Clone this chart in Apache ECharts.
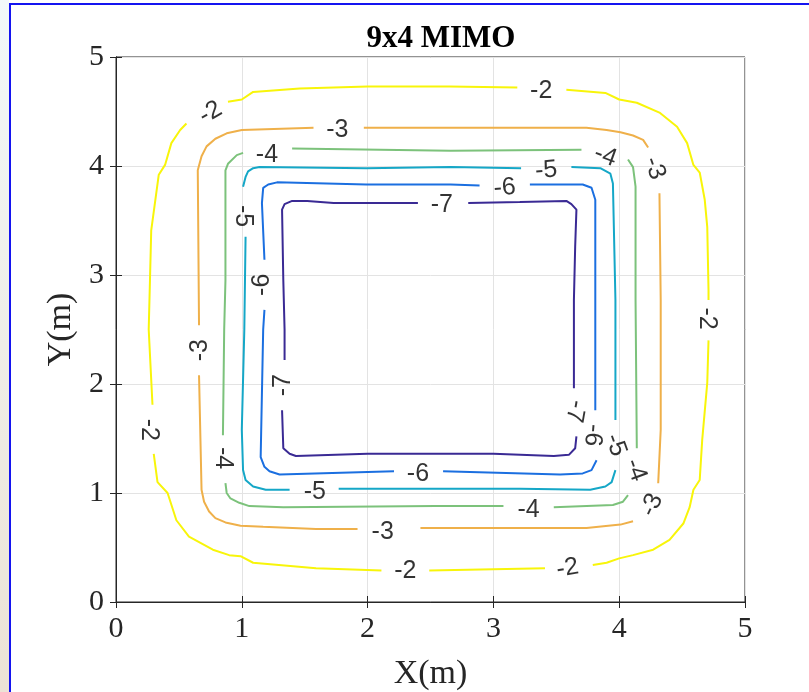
<!DOCTYPE html>
<html>
<head>
<meta charset="utf-8">
<script src="https://cdn.jsdelivr.net/npm/echarts@6/dist/echarts.min.js"></script>
<style>
  html, body { margin:0; padding:0; background:#fff; }
  #chart { position:absolute; left:0; top:0; width:809px; height:692px; }
  #strip { position:absolute; left:0; top:0; width:9px; height:692px;
           background:linear-gradient(#f2f9fa, #ece3d6); }
  #bt { position:absolute; left:9px; top:3px; width:800px; height:2px; background:#1414f0; }
  #bl { position:absolute; left:9px; top:3px; width:2px; height:689px; background:#1414f0; }
</style>
</head>
<body>
<div id="chart"></div>
<div id="strip"></div><div id="bt"></div><div id="bl"></div>
<script>
// Contour levels and their colours (parula-like)
const levels = [-2, -3, -4, -5, -6, -7];
const levelColors = ['#f8f50a', '#efb04a', '#7cc27b', '#15a7c7', '#1b6fe0', '#3a2a94'];
const xTicks = [0, 1, 2, 3, 4, 5];
const yTicks = [0, 1, 2, 3, 4, 5];

// Contour line segments (gaps are where the labels sit), [x, y] in metres
const contourM2 = [
  [[0.89,4.59],[1.00,4.61],[1.09,4.68],[1.46,4.71],[2.00,4.73],[2.42,4.73],[2.65,4.73],[3.19,4.72]],
  [[3.58,4.70],[3.89,4.67],[4.00,4.61],[4.14,4.58],[4.32,4.49],[4.46,4.36],[4.54,4.21],[4.59,4.01],[4.64,3.94],[4.68,3.69],[4.70,3.44],[4.71,2.86],[4.71,2.77]],
  [[4.71,2.40],[4.70,2.01],[4.66,1.49],[4.64,1.12],[4.59,1.03],[4.56,0.87],[4.51,0.72],[4.40,0.57],[4.27,0.48],[4.11,0.43],[4.00,0.40],[3.90,0.36],[3.79,0.34]],
  [[3.41,0.31],[2.49,0.29]],
  [[2.11,0.29],[1.59,0.31],[1.09,0.36],[0.99,0.42],[0.90,0.43],[0.77,0.48],[0.58,0.60],[0.48,0.75],[0.41,1.00],[0.33,1.10],[0.30,1.36]],
  [[0.29,1.81],[0.26,2.50],[0.27,2.95],[0.28,3.41],[0.34,3.92],[0.39,4.01],[0.44,4.21],[0.51,4.33],[0.56,4.39]]
];
const contourM3 = [
  [[0.66,2.54],[0.65,3.96],[0.68,4.09],[0.72,4.18],[0.79,4.25],[0.88,4.30],[1.00,4.33],[1.57,4.35]],
  [[1.97,4.35],[2.66,4.35],[3.74,4.35],[3.90,4.33],[4.01,4.31],[4.11,4.28],[4.19,4.24],[4.23,4.17]],
  [[4.32,3.75],[4.33,2.77],[4.33,1.58],[4.31,1.09]],
  [[4.11,0.74],[4.01,0.71],[3.74,0.68],[2.54,0.68],[2.42,0.68]],
  [[1.92,0.67],[1.59,0.67],[1.17,0.69],[0.99,0.70],[0.87,0.73],[0.79,0.77],[0.74,0.83],[0.70,0.92],[0.68,1.03],[0.66,2.08]]
];
const contourM4 = [
  [[0.85,1.53],[0.86,2.50],[0.87,2.95],[0.87,3.96],[0.89,4.02],[0.96,4.10],[1.01,4.12]],
  [[1.40,4.16],[2.66,4.14],[3.70,4.15]],
  [[4.07,4.06],[4.11,3.99],[4.13,3.81],[4.13,2.77],[4.14,1.41]],
  [[4.07,0.98],[4.03,0.92],[3.95,0.89],[3.48,0.87]],
  [[3.08,0.88],[2.54,0.88],[1.33,0.87],[1.06,0.88],[0.98,0.91],[0.91,0.95],[0.88,1.00],[0.87,1.09]]
];
const contourM5 = [
  [[1.01,3.81],[1.03,3.90],[1.05,3.95],[1.09,3.98],[1.14,3.99],[1.99,3.98],[2.66,3.99],[3.22,3.98]],
  [[3.62,3.99],[3.85,3.98],[3.93,3.93],[3.95,3.84],[3.97,2.77],[3.97,1.67]],
  [[3.97,1.21],[3.94,1.10],[3.89,1.06],[3.77,1.03],[3.21,1.04],[2.54,1.04],[1.77,1.04]],
  [[1.38,1.03],[1.19,1.03],[1.09,1.06],[1.03,1.12],[1.01,1.21],[1.00,1.58],[1.02,2.50],[1.03,3.35]]
];
const contourM6 = [
  [[1.18,3.14],[1.16,3.66],[1.17,3.80],[1.21,3.83],[1.28,3.85],[1.99,3.83],[2.66,3.83],[2.89,3.82]],
  [[3.29,3.83],[3.71,3.83],[3.78,3.80],[3.81,3.69],[3.81,2.77],[3.81,1.76]],
  [[3.82,1.30],[3.78,1.21],[3.71,1.18],[3.53,1.17],[2.60,1.20]],
  [[2.21,1.20],[1.30,1.17],[1.22,1.20],[1.18,1.24],[1.15,1.33],[1.17,2.50],[1.18,2.68]]
];
const contourM7 = [
  [[1.34,2.22],[1.34,2.50],[1.33,2.95],[1.32,3.60],[1.34,3.65],[1.40,3.68],[1.52,3.68],[1.73,3.66],[2.40,3.66]],
  [[2.80,3.66],[3.21,3.67],[3.58,3.68],[3.62,3.65],[3.66,3.60],[3.65,3.26],[3.64,2.77],[3.64,1.96]],
  [[3.66,1.52],[3.65,1.41],[3.60,1.35],[3.48,1.34],[3.00,1.36],[2.42,1.36],[2.00,1.36],[1.43,1.34],[1.38,1.36],[1.33,1.41],[1.32,1.76]]
];
const contours = [contourM2, contourM3, contourM4, contourM5, contourM6, contourM7];

// Contour labels: [x, y, level] and text angle (degrees)
const labelPoints = [
  [0.75,4.49,-2],[3.38,4.69,-2],[4.70,2.60,-2],[3.59,0.31,-2],[2.30,0.28,-2],[0.26,1.58,-2],
  [1.76,4.33,-3],[4.28,3.98,-3],[4.26,0.89,-3],[2.12,0.64,-3],[0.67,2.31,-3],
  [1.20,4.10,-4],[3.89,4.09,-4],[4.13,1.21,-4],[3.28,0.84,-4],[0.85,1.32,-4],
  [3.42,3.96,-5],[3.97,1.44,-5],[1.58,1.01,-5],[1.01,3.54,-5],
  [3.09,3.80,-6],[3.79,1.53,-6],[2.40,1.17,-6],[1.16,2.91,-6],
  [2.59,3.64,-7],[3.65,1.75,-7],[1.33,1.99,-7]
];
const labelAngles = [
  30, 0, -90, 10, 0, -90,
  0, -70, 65, 0, 90,
  0, -20, -70, 0, -90,
  5, -70, 0, -90,
  5, -95, 0, 90,
  0, -100, 90
];

const series = [];
contours.forEach((segs, i) => {
  segs.forEach(seg => {
    series.push({
      type: 'line', data: seg, showSymbol: false, symbol: 'none',
      lineStyle: { color: levelColors[i], width: 2 }, silent: true, z: 3
    });
  });
});
series.push({
  type: 'scatter', symbolSize: 0, silent: true, z: 5,
  data: labelPoints.map((p, i) => ({
    value: [p[0], p[1]],
    label: { rotate: labelAngles[i] }
  })),
  label: {
    show: true, position: 'inside', color: '#000',
    fontFamily: 'Liberation Sans', fontSize: 25,
    formatter: p => String(labelPoints[p.dataIndex][2])
  }
});

const axisColor = '#262626';
const serif = 'Liberation Serif';
const chart = echarts.init(document.getElementById('chart'));
chart.setOption({
  animation: false,
  backgroundColor: 'transparent',
  title: {
    text: '9x4 MIMO', left: 436, top: 18, textAlign: 'center',
    textStyle: { fontFamily: serif, fontWeight: 'bold', fontSize: 31, color: '#000' }
  },
  grid: { left: 116, top: 57, right: 64, bottom: 90, show: true, borderColor: axisColor, borderWidth: 1,
          containLabel: false, outerBoundsMode: 'none' },
  xAxis: [{
    type: 'value', min: xTicks[0], max: xTicks[xTicks.length - 1], interval: 1,
    name: 'X(m)', nameLocation: 'middle', nameGap: 55,
    nameTextStyle: { fontFamily: serif, fontSize: 34, color: axisColor },
    axisLine: { show: true, lineStyle: { color: axisColor } },
    axisTick: { show: true, inside: true, length: 6, lineStyle: { color: axisColor } },
    axisLabel: { fontFamily: serif, fontSize: 30, color: axisColor, margin: 12 },
    splitLine: { show: true, lineStyle: { color: '#e3e3e3', width: 1 } }
  }, {
    type: 'value', position: 'top', min: xTicks[0], max: xTicks[xTicks.length - 1], interval: 1,
    axisLine: { show: true, lineStyle: { color: axisColor } },
    axisTick: { show: true, inside: true, length: 6, lineStyle: { color: axisColor } },
    axisLabel: { show: false }, splitLine: { show: false }
  }],
  yAxis: [{
    type: 'value', min: yTicks[0], max: yTicks[yTicks.length - 1], interval: 1,
    name: 'Y(m)', nameLocation: 'middle', nameGap: 38,
    nameTextStyle: { fontFamily: serif, fontSize: 34, color: axisColor },
    axisLine: { show: true, lineStyle: { color: axisColor } },
    axisTick: { show: true, inside: true, length: 6, lineStyle: { color: axisColor } },
    axisLabel: { fontFamily: serif, fontSize: 30, color: axisColor, margin: 12 },
    splitLine: { show: true, lineStyle: { color: '#e3e3e3', width: 1 } }
  }, {
    type: 'value', position: 'right', min: yTicks[0], max: yTicks[yTicks.length - 1], interval: 1,
    axisLine: { show: true, lineStyle: { color: axisColor } },
    axisTick: { show: true, inside: true, length: 6, lineStyle: { color: axisColor } },
    axisLabel: { show: false }, splitLine: { show: false }
  }],
  series: series
});
</script>
</body>
</html>
